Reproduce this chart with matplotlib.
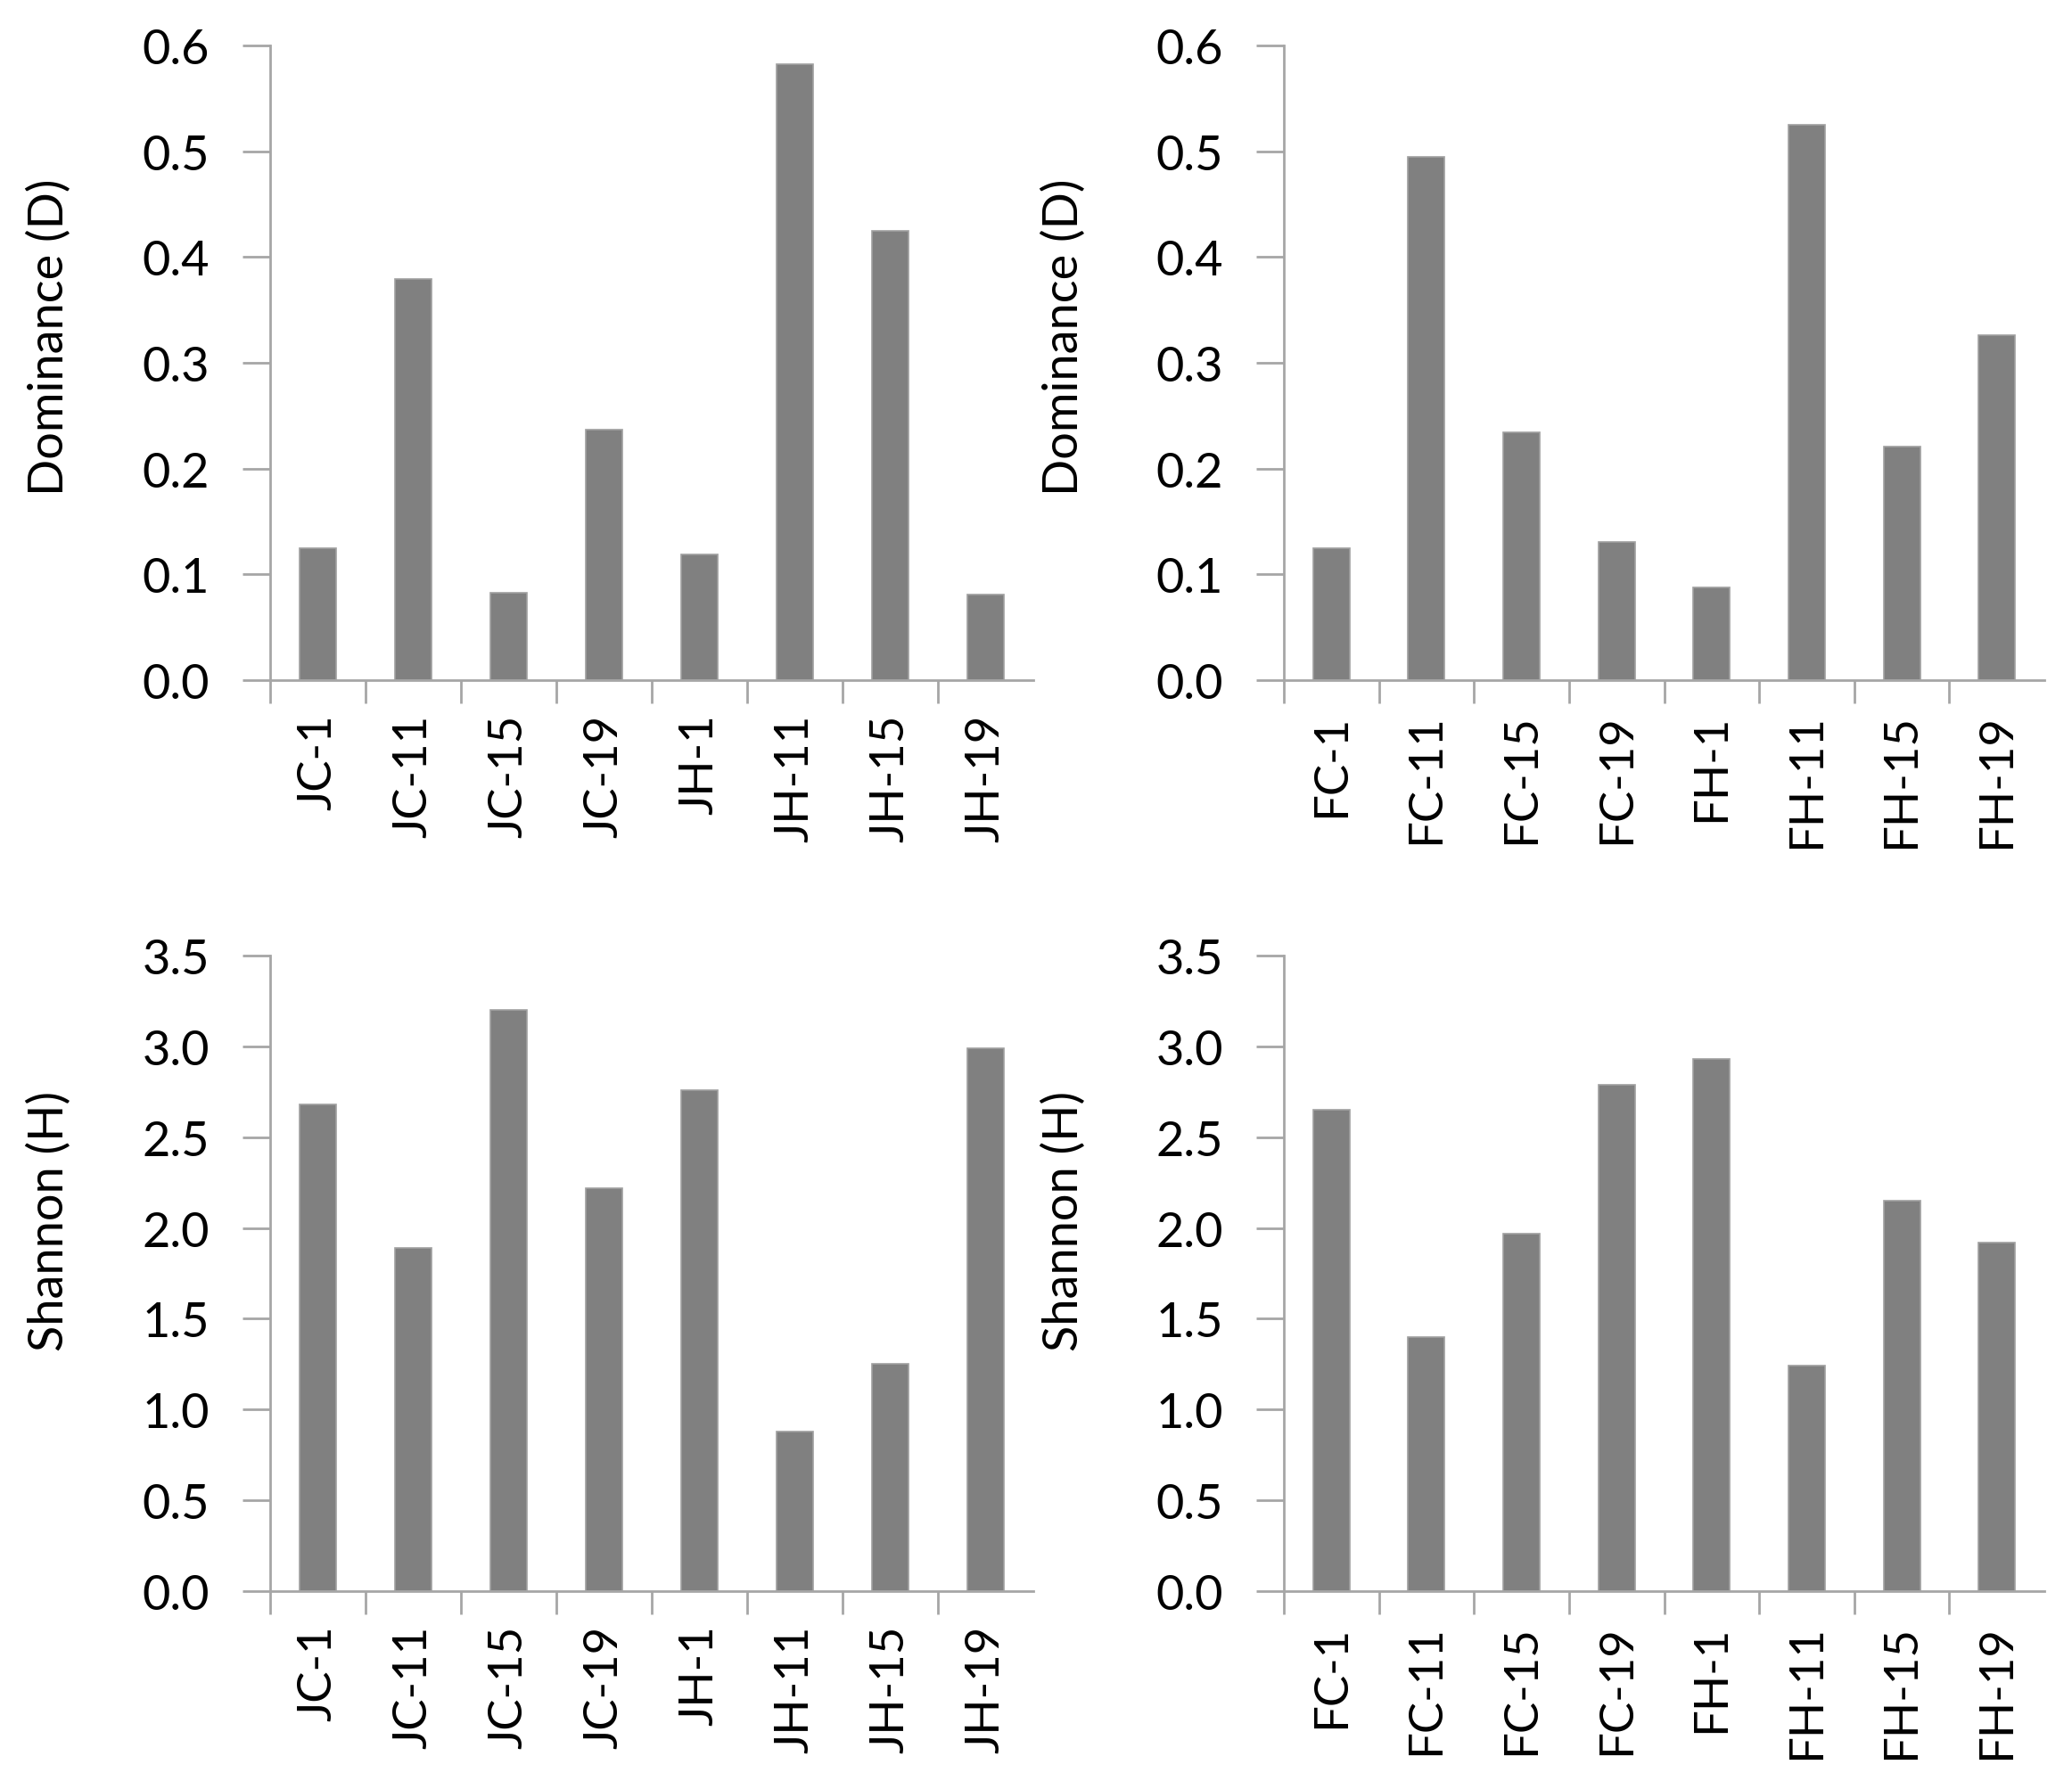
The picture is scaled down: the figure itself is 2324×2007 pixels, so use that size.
import matplotlib
matplotlib.use("Agg")
import matplotlib.pyplot as plt
import numpy as np

plt.rcParams['font.family'] = ['Lato', 'DejaVu Sans']

j_labels = ["JC-1", "JC-11", "JC-15", "JC-19", "JH-1", "JH-11", "JH-15", "JH-19"]
f_labels = ["FC-1", "FC-11", "FC-15", "FC-19", "FH-1", "FH-11", "FH-15", "FH-19"]

j_dominance = [0.125, 0.379, 0.083, 0.237, 0.119, 0.582, 0.425, 0.081]
f_dominance = [0.125, 0.495, 0.234, 0.131, 0.088, 0.525, 0.221, 0.326]
j_shannon = [2.68, 1.89, 3.20, 2.22, 2.76, 0.88, 1.25, 2.99]
f_shannon = [2.65, 1.40, 1.97, 2.79, 2.93, 1.24, 2.15, 1.92]

W, H = 2324, 2008
fig = plt.figure(figsize=(W / 100, H / 100), dpi=100)

axis_col = "#a6a6a6"
bar_col = "#808080"

panels = [
    (j_labels, j_dominance, "Dominance (D)", (0, 0.6), np.arange(0, 0.61, 0.1), (303, 52, 1159, 764), (55, 378)),
    (f_labels, f_dominance, "Dominance (D)", (0, 0.6), np.arange(0, 0.61, 0.1), (1440, 52, 2293, 764), (1193, 378)),
    (j_labels, j_shannon, "Shannon (H)", (0, 3.5), np.arange(0, 3.51, 0.5), (303, 1073, 1159, 1786), (55, 1370)),
    (f_labels, f_shannon, "Shannon (H)", (0, 3.5), np.arange(0, 3.51, 0.5), (1440, 1073, 2293, 1786), (1193, 1370)),
]

for labels, vals, ylab, ylim, yticks, (x0, y0, x1, y1), (lx, ly) in panels:
    ax = fig.add_axes([x0 / W, 1 - y1 / H, (x1 - x0) / W, (y1 - y0) / H])
    x = np.arange(len(labels))
    ax.bar(x, vals, width=0.385, color=bar_col, edgecolor="#a0a0a0", linewidth=1.2)
    ax.set_xlim(-0.5, len(labels) - 0.5)
    ax.set_ylim(*ylim)
    ax.set_yticks(yticks)
    ax.set_yticklabels(["{:.1f}".format(t) for t in yticks])
    ax.set_xticks(x)
    ax.set_xticklabels(labels, rotation=90)
    ax.set_xticks(np.arange(-0.5, len(labels) - 0.5, 1.0), minor=True)
    ax.tick_params(axis="x", which="major", length=0, pad=27, labelsize=38)
    ax.tick_params(axis="x", which="minor", length=19, width=2, color=axis_col)
    ax.tick_params(axis="y", length=22, width=2, color=axis_col, pad=27, labelsize=39)
    for s in ["top", "right"]:
        ax.spines[s].set_visible(False)
    for s in ["left", "bottom"]:
        ax.spines[s].set_color(axis_col)
        ax.spines[s].set_linewidth(2)
    ax.set_ylabel(ylab, fontsize=39, va="center")
    ax.yaxis.set_label_coords((lx - x0) / (x1 - x0), (y1 - ly) / (y1 - y0))

fig.savefig("out.png", dpi=100)
